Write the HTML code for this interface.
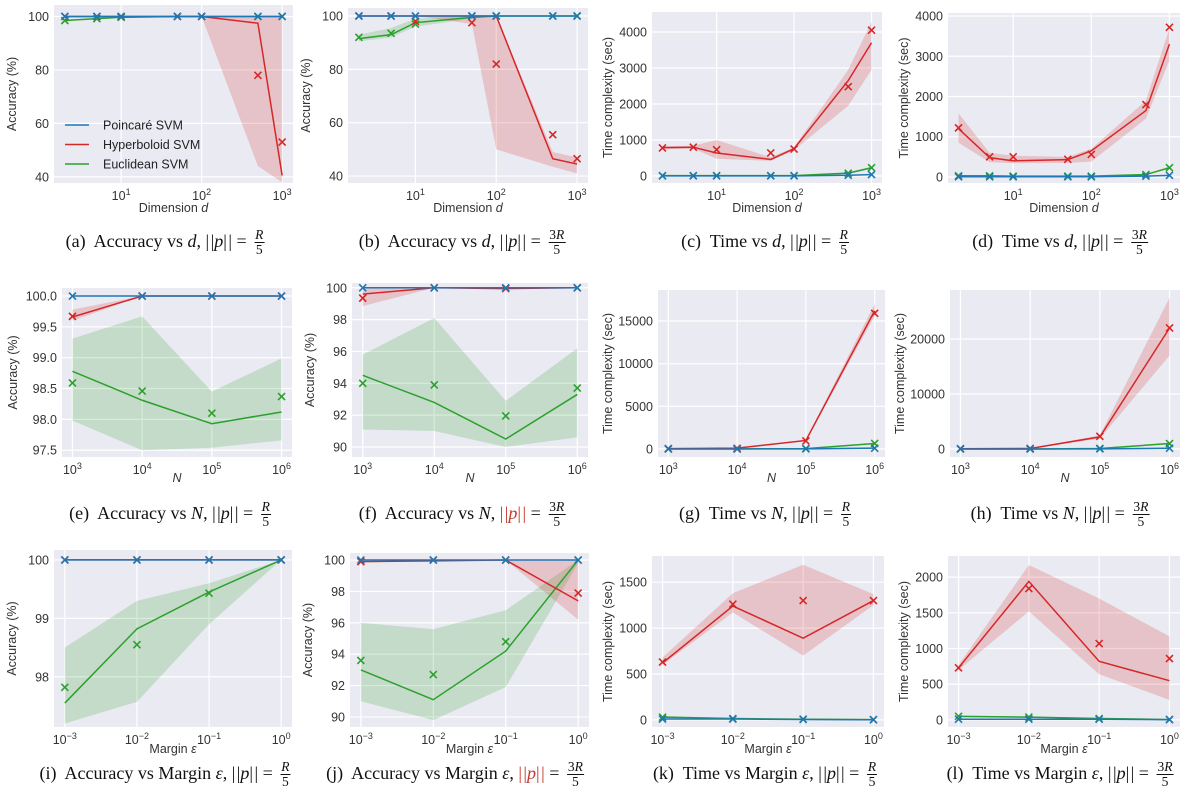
<!DOCTYPE html>
<html><head><meta charset="utf-8">
<style>
body{margin:0;background:#fff;width:1198px;height:810px;overflow:hidden;position:relative}
svg{position:absolute;left:0;top:0}
.cap{position:absolute;font-family:"Liberation Serif",serif;font-size:18px;color:#111;white-space:nowrap;transform:translateX(-50%);line-height:1}
.frac{display:inline-block;vertical-align:middle;text-align:center;font-size:13.5px;line-height:1.05;margin-left:3px}
.frac span{display:block}
.frac .num{border-bottom:1px solid #111;padding:0 1px}
.hl{color:#c0392b}
</style></head><body>
<svg id="fig" width="1198" height="810"></svg>
<div id="caps"></div>
<script>
// ---------- data ----------
const dimD = [2,5,10,50,100,500,1000];
const sizeN = [1e3,1e4,1e5,1e6];
const marginEps = [1e-3,1e-2,1e-1,1];
const dimTicks = [1,2,3];
const nTicks = [3,4,5,6];
const epsTicks = [-3,-2,-1,0];

// (a)
const aP_mean=[100,100,100,100,100,100,100], aP_mark=[100,100,100,100,100,100,100];
const aH_mean=[100,100,100,100,100,97.5,40.5], aH_lo=[100,100,100,100,100,44,38], aH_hi=[100,100,100,100,100,100,100], aH_mark=[100,100,100,100,100,78,53];
const aE_mean=[98.5,99.2,99.7,100,100,100,100], aE_lo=[98.2,99,99.5,100,100,100,100], aE_hi=[98.8,99.4,99.9,100,100,100,100], aE_mark=[98.5,99.2,99.7,100,100,100,100];
// (b)
const bP_mean=[100,100,100,100,100,100,100], bP_mark=[100,100,100,100,100,100,100];
const bH_mean=[100,100,100,100,100,46.5,44.5], bH_lo=[100,100,100,97,50,43.5,41], bH_hi=[100,100,100,100,100,49,47], bH_mark=[100,100,98,97.5,82,55.5,46.5];
const bE_mean=[91.5,93,97.5,99.5,100,100,100], bE_lo=[90.5,92,96,99,100,100,100], bE_hi=[93,95.5,99,100,100,100,100], bE_mark=[92,93.5,97,100,100,100,100];
// (c)
const cP_mean=[5,5,5,5,5,20,40], cP_mark=[5,5,5,5,5,20,40];
const cH_mean=[790,800,640,460,760,2650,3700], cH_lo=[740,760,480,420,720,1950,2950], cH_hi=[830,840,1000,520,800,2950,4280], cH_mark=[780,800,730,640,750,2480,4050];
const cE_mean=[10,10,10,10,10,80,230], cE_lo=[5,5,5,5,5,60,200], cE_hi=[15,15,15,15,15,100,260], cE_mark=[10,10,10,10,10,80,230];
// (d)
const dP_mean=[5,5,5,5,5,20,40], dP_mark=[5,5,5,5,5,20,40];
const dH_mean=[1200,480,400,430,650,1650,3300], dH_lo=[850,370,340,350,380,1450,2900], dH_hi=[1580,600,530,500,700,1900,3700], dH_mark=[1220,500,500,440,560,1800,3720];
const dE_mean=[30,30,20,20,20,60,230], dE_lo=[20,20,15,15,15,45,200], dE_hi=[40,40,25,25,25,75,260], dE_mark=[30,30,20,20,20,60,230];
// (e)
const eP_mean=[100,100,100,100], eP_mark=[100,100,100,100];
const eH_mean=[99.66,100,100,100], eH_lo=[99.6,100,100,100], eH_hi=[99.78,100,100,100], eH_mark=[99.67,100,100,100];
const eE_mean=[98.78,98.31,97.93,98.12], eE_lo=[97.98,97.5,97.54,97.66], eE_hi=[99.31,99.67,98.45,98.99], eE_mark=[98.59,98.46,98.1,98.37];
// (f)
const fP_mean=[100,100,100,100], fP_mark=[100,100,100,100];
const fH_mean=[99.6,100,99.95,100], fH_lo=[98.85,100,99.9,100], fH_hi=[100,100,100,100], fH_mark=[99.35,100,99.95,100];
const fE_mean=[94.5,92.8,90.5,93.3], fE_lo=[91.1,91,90,90.6], fE_hi=[95.8,98.1,92.9,96.2], fE_mark=[94,93.9,91.95,93.7];
// (g)
const gP_mean=[5,5,20,100], gP_mark=[5,5,20,100];
const gH_mean=[50,100,1000,16200], gH_lo=[40,80,900,15600], gH_hi=[60,120,1100,17000], gH_mark=[50,80,950,15900];
const gE_mean=[10,10,50,650], gE_lo=[5,5,40,600], gE_hi=[15,15,60,700], gE_mark=[10,10,50,650];
// (h)
const hP_mean=[5,5,30,150], hP_mark=[5,5,30,150];
const hH_mean=[50,100,2200,22000], hH_lo=[40,80,1900,17000], hH_hi=[60,120,2500,27500], hH_mark=[60,100,2300,22000];
const hE_mean=[10,10,100,1000], hE_lo=[5,5,80,900], hE_hi=[15,15,120,1100], hE_mark=[10,10,100,1000];
// (i)
const iP_mean=[100,100,100,100], iP_mark=[100,100,100,100];
const iH_mean=[100,100,100,100], iH_lo=[100,100,100,100], iH_hi=[100,100,100,100], iH_mark=[100,100,100,100];
const iE_mean=[97.55,98.82,99.45,100], iE_lo=[97.2,97.57,98.9,100], iE_hi=[98.5,99.3,99.6,100], iE_mark=[97.82,98.55,99.43,100];
// (j)
const jP_mean=[100,100,100,100], jP_mark=[100,100,100,100];
const jH_mean=[99.9,99.95,100,97.4], jH_lo=[99.9,99.95,100,96.2], jH_hi=[100,100,100,100], jH_mark=[99.9,100,100,97.9];
const jE_mean=[93,91.1,94.2,100], jE_lo=[91,89.8,91.9,99.8], jE_hi=[96,95.6,96.8,100], jE_mark=[93.6,92.7,94.8,100];
// (k)
const kP_mean=[10,10,5,2], kP_mark=[10,10,5,2];
const kH_mean=[620,1240,890,1300], kH_lo=[600,1170,700,1250], kH_hi=[680,1380,1690,1370], kH_mark=[630,1260,1300,1300];
const kE_mean=[30,15,8,3], kE_lo=[20,10,5,1], kE_hi=[45,20,12,6], kE_mark=[30,15,8,3];
// (l)
const lP_mean=[10,10,10,5], lP_mark=[10,10,10,5];
const lH_mean=[730,1940,820,550], lH_lo=[700,1520,640,280], lH_hi=[770,2170,1700,1170], lH_mark=[730,1840,1070,860];
const lE_mean=[50,40,20,5], lE_lo=[40,30,15,2], lE_hi=[60,50,25,8], lE_mark=[50,40,20,5];

const accTicksA=[40,60,80,100], accTicksE=[97.5,98.0,98.5,99.0,99.5,100.0], accTicksF=[90,92,94,96,98,100];
const accTicksI=[98,99,100], accTicksJ=[90,92,94,96,98,100];
const timeTicks4k=[0,1000,2000,3000,4000], timeTicksG=[0,5000,10000,15000], timeTicksH=[0,10000,20000];
const timeTicksK=[0,500,1000,1500], timeTicksL=[0,500,1000,1500,2000];

// ---------- drawing ----------
const NS="http://www.w3.org/2000/svg";
const svg=document.getElementById('fig');
function el(tag,attrs,parent){const e=document.createElementNS(NS,tag);for(const k in attrs)e.setAttribute(k,attrs[k]);(parent||svg).appendChild(e);return e;}
const BLUE="#1f77b4",RED="#d62728",GREEN="#2ca02c";
const FONT='"Liberation Sans", "DejaVu Sans", sans-serif';

function panel(o){
  const g=el('g',{});
  
  
  const lx0=Math.log10(o.xs[0]),lx1=Math.log10(o.xs[o.xs.length-1]),m=(lx1-lx0)*0.05;
  const X=v=>o.x0+(Math.log10(v)-(lx0-m))/((lx1+m)-(lx0-m))*(o.x1-o.x0);
  const XE=e=>o.x0+(e-(lx0-m))/((lx1+m)-(lx0-m))*(o.x1-o.x0);
  const Y=v=>o.y1-(v-o.ylim[0])/(o.ylim[1]-o.ylim[0])*(o.y1-o.y0);
  const bg=el('rect',{x:o.x0,y:o.y0,width:o.x1-o.x0,height:o.y1-o.y0,fill:'#eaeaf2'},g);
  
  o.yticks.forEach(t=>{
    const y=Y(t);
    el('line',{x1:o.x0,x2:o.x1,y1:y,y2:y,stroke:'#fff','stroke-width':1.2},g);
    const tx=el('text',{x:o.x0-5,y:y+4.5,'text-anchor':'end','font-family':FONT,'font-size':12.5,fill:'#333'},g);
    tx.textContent=o.yfmt?o.yfmt(t):String(t);
    
  });
  o.xticks.forEach(e=>{
    const x=XE(e);
    el('line',{x1:x,x2:x,y1:o.y0,y2:o.y1,stroke:'#fff','stroke-width':1.2},g);
    const tx=el('text',{x:x,y:o.y1+17,'text-anchor':'middle','font-family':FONT,'font-size':12.5,fill:'#333'},g);
    
    const a=el('tspan',{},tx);a.textContent='10';
    const b=el('tspan',{dy:-5,'font-size':9},tx);b.textContent=(e<0?'\u2212'+(-e):String(e));
  });
  const xt=el('text',{x:(o.x0+o.x1)/2,y:o.y1+(o.xtOff||29),'text-anchor':'middle','font-family':FONT,'font-size':12.5,fill:'#333'},g);
  
  o.xtitle.forEach(p=>{const t=el('tspan',p[1]?{'font-style':'italic'}:{},xt);t.textContent=p[0];});
  const yt=el('text',{x:0,y:0,'text-anchor':'middle','font-family':FONT,'font-size':12.5,fill:'#333',transform:`translate(${o.x0-o.ylOff},${(o.y0+o.y1)/2}) rotate(-90)`},g);
  yt.textContent=o.ytitle;
  
  const series=[['euclidean',GREEN,o.E],['hyperboloid',RED,o.H],['poincare',BLUE,o.P]];
  series.forEach(([nm,col,s])=>{
    if(s.lo){
      let d='M'+o.xs.map((v,i)=>X(v)+','+Y(s.hi[i])).join('L');
      d+='L'+o.xs.map((v,i)=>[X(v),Y(s.lo[i])]).reverse().map(p=>p.join(',')).join('L')+'Z';
      const band=el('path',{d:d,fill:col,'fill-opacity':0.2,stroke:'none'},g);
      
    }
  });
  series.forEach(([nm,col,s])=>{
    const ln=el('polyline',{points:o.xs.map((v,i)=>X(v)+','+Y(s.mean[i])).join(' '),fill:'none',stroke:col,'stroke-width':1.5},g);
    
    s.mark.forEach((v,i)=>{
      const cx=X(o.xs[i]),cy=Y(v),r=3.5;
      const mk=el('path',{d:`M${cx-r},${cy-r}L${cx+r},${cy+r}M${cx-r},${cy+r}L${cx+r},${cy-r}`,stroke:col,'stroke-width':1.6,fill:'none'},g);
      
    });
  });
  if(o.legend){
    const lg=el('g',{},g);
    
    [['Poincaré SVM',BLUE],['Hyperboloid SVM',RED],['Euclidean SVM',GREEN]].forEach((it,k)=>{
      const y=125+k*19.5;
      el('line',{x1:65,x2:89,y1:y,y2:y,stroke:it[1],'stroke-width':1.5},lg);
      const t=el('text',{x:103,y:y+4.5,'font-family':FONT,'font-size':12.5,fill:'#222'},lg);
      t.textContent=it[0];
      
    });
  }
}
const S=(mean,lo,hi,mark)=>({mean,lo,hi,mark});
const accT='Accuracy (%)', timeT='Time complexity (sec)';
const dimTitle=[['Dimension '],['d',1]], nTitle=[['N',1]], epsTitle=[['Margin '],['ε',1]];

panel({id:'a',x0:54,x1:293,y0:5,y1:183,ylim:[37.7,104.3],yticks:accTicksA,xs:dimD,xticks:dimTicks,xtitle:dimTitle,ytitle:accT,ylOff:38,xtOff:29,legend:true,
 P:S(aP_mean,null,null,aP_mark),H:S(aH_mean,aH_lo,aH_hi,aH_mark),E:S(aE_mean,aE_lo,aE_hi,aE_mark)});
panel({id:'b',x0:348,x1:588,y0:8,y1:183,ylim:[37.4,103],yticks:accTicksA,xs:dimD,xticks:dimTicks,xtitle:dimTitle,ytitle:accT,ylOff:38,xtOff:29,
 P:S(bP_mean,null,null,bP_mark),H:S(bH_mean,bH_lo,bH_hi,bH_mark),E:S(bE_mean,bE_lo,bE_hi,bE_mark)});
panel({id:'c',x0:652,x1:882,y0:12,y1:183,ylim:[-194,4555],yticks:timeTicks4k,xs:dimD,xticks:dimTicks,xtitle:dimTitle,ytitle:timeT,ylOff:40,xtOff:29,
 P:S(cP_mean,null,null,cP_mark),H:S(cH_mean,cH_lo,cH_hi,cH_mark),E:S(cE_mean,cE_lo,cE_hi,cE_mark)});
panel({id:'d',x0:948,x1:1180,y0:13,y1:183,ylim:[-150,4075],yticks:timeTicks4k,xs:dimD,xticks:dimTicks,xtitle:dimTitle,ytitle:timeT,ylOff:40,xtOff:29,
 P:S(dP_mean,null,null,dP_mark),H:S(dH_mean,dH_lo,dH_hi,dH_mark),E:S(dE_mean,dE_lo,dE_hi,dE_mark)});

const f1=t=>t.toFixed(1);
panel({id:'e',x0:62,x1:292,y0:288,y1:457,ylim:[97.39,100.13],yticks:accTicksE,yfmt:f1,xs:sizeN,xticks:nTicks,xtitle:nTitle,ytitle:accT,ylOff:45,xtOff:25,
 P:S(eP_mean,null,null,eP_mark),H:S(eH_mean,eH_lo,eH_hi,eH_mark),E:S(eE_mean,eE_lo,eE_hi,eE_mark)});
panel({id:'f',x0:352,x1:588,y0:283,y1:457,ylim:[89.37,100.3],yticks:accTicksF,xs:sizeN,xticks:nTicks,xtitle:nTitle,ytitle:accT,ylOff:38,xtOff:25,
 P:S(fP_mean,null,null,fP_mark),H:S(fH_mean,fH_lo,fH_hi,fH_mark),E:S(fE_mean,fE_lo,fE_hi,fE_mark)});
panel({id:'g',x0:658,x1:885,y0:290,y1:457,ylim:[-938,18633],yticks:timeTicksG,xs:sizeN,xticks:nTicks,xtitle:nTitle,ytitle:timeT,ylOff:46,xtOff:25,
 P:S(gP_mean,null,null,gP_mark),H:S(gH_mean,gH_lo,gH_hi,gH_mark),E:S(gE_mean,gE_lo,gE_hi,gE_mark)});
panel({id:'h',x0:950,x1:1180,y0:290,y1:457,ylim:[-1450,28900],yticks:timeTicksH,xs:sizeN,xticks:nTicks,xtitle:nTitle,ytitle:timeT,ylOff:46,xtOff:25,
 P:S(hP_mean,null,null,hP_mark),H:S(hH_mean,hH_lo,hH_hi,hH_mark),E:S(hE_mean,hE_lo,hE_hi,hE_mark)});

panel({id:'i',x0:54,x1:292,y0:550,y1:727,ylim:[97.14,100.17],yticks:accTicksI,xs:marginEps,xticks:epsTicks,xtitle:epsTitle,ytitle:accT,ylOff:38,xtOff:26,
 P:S(iP_mean,null,null,iP_mark),H:S(iH_mean,iH_lo,iH_hi,iH_mark),E:S(iE_mean,iE_lo,iE_hi,iE_mark)});
panel({id:'j',x0:350,x1:589,y0:553,y1:727,ylim:[89.36,100.45],yticks:accTicksJ,xs:marginEps,xticks:epsTicks,xtitle:epsTitle,ytitle:accT,ylOff:38,xtOff:26,
 P:S(jP_mean,null,null,jP_mark),H:S(jH_mean,jH_lo,jH_hi,jH_mark),E:S(jE_mean,jE_lo,jE_hi,jE_mark)});
panel({id:'k',x0:652,x1:884,y0:556,y1:727,ylim:[-77,1785],yticks:timeTicksK,xs:marginEps,xticks:epsTicks,xtitle:epsTitle,ytitle:timeT,ylOff:40,xtOff:26,
 P:S(kP_mean,null,null,kP_mark),H:S(kH_mean,kH_lo,kH_hi,kH_mark),E:S(kE_mean,kE_lo,kE_hi,kE_mark)});
panel({id:'l',x0:948,x1:1180,y0:556,y1:727,ylim:[-99,2296],yticks:timeTicksL,xs:marginEps,xticks:epsTicks,xtitle:epsTitle,ytitle:timeT,ylOff:40,xtOff:26,
 P:S(lP_mean,null,null,lP_mark),H:S(lH_mean,lH_lo,lH_hi,lH_mark),E:S(lE_mean,lE_lo,lE_hi,lE_mark)});

// captions
const caps=[
 ['a',165,'Accuracy vs <i>d</i>',false,'R'],
 ['b',462,'Accuracy vs <i>d</i>',false,'3R'],
 ['c',765,'Time vs <i>d</i>',false,'R'],
 ['d',1060,'Time vs <i>d</i>',false,'3R'],
 ['e',170,'Accuracy vs <i>N</i>',false,'R'],
 ['f',462,'Accuracy vs <i>N</i>',true,'3R'],
 ['g',765,'Time vs <i>N</i>',false,'R'],
 ['h',1060,'Time vs <i>N</i>',false,'3R'],
 ['i',165,'Accuracy vs Margin <i>ε</i>',false,'R'],
 ['j',455,'Accuracy vs Margin <i>ε</i>',true,'3R'],
 ['k',765,'Time vs Margin <i>ε</i>',false,'R'],
 ['l',1060,'Time vs Margin <i>ε</i>',false,'3R']
];
const rowY={a:228,b:228,c:228,d:228,e:500,f:500,g:500,h:500,i:760,j:760,k:760,l:760};
const cd=document.getElementById('caps');
caps.forEach(c=>{
  const d=document.createElement('div');
  d.className='cap';
  
  
  d.style.left=c[1]+'px';d.style.top=rowY[c[0]]+'px';
  const num=c[4]==='3R'?'3<i>R</i>':'<i>R</i>';
  const inner='|&#8202;|<i>p</i>|&#8202;|';
  const norm=c[3]?'<span class="hl">'+inner+'</span>':inner;
  d.innerHTML=`(${c[0]})&nbsp; ${c[2]}, ${norm} = <span class="frac"><span class="num">${num}</span><span>5</span></span>`;
  cd.appendChild(d);
});
</script>
</body></html>
